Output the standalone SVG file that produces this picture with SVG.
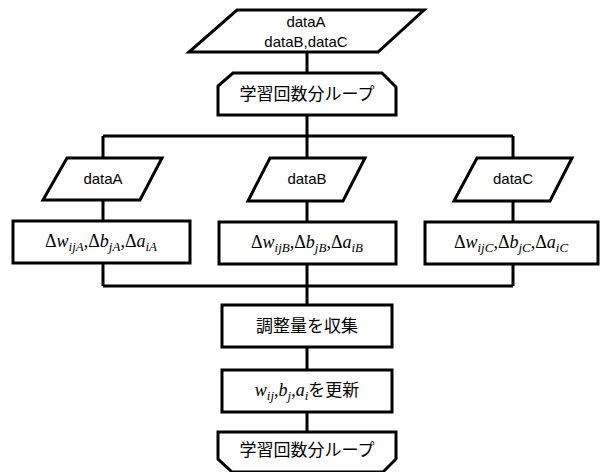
<svg xmlns="http://www.w3.org/2000/svg" width="602" height="472" viewBox="0 0 602 472">
<style>
.sh{fill:#fff;stroke:#000;stroke-width:3;stroke-linejoin:miter}
.cn{fill:none;stroke:#000;stroke-width:3}
.t{font-family:"Liberation Sans","Noto Sans CJK JP",sans-serif;font-size:15px;fill:#000;text-anchor:middle}
.j{font-family:"Noto Sans CJK JP",sans-serif;font-size:17px;fill:#000;text-anchor:middle}
.m{font-family:"Liberation Serif","Noto Sans CJK JP",serif;font-size:18px;fill:#000;text-anchor:middle}
.i{font-style:italic}
.s{font-style:italic;font-size:13px}
</style>
<rect width="602" height="472" fill="#fff"/>
<g id="connectors">
<path class="cn" d="M307 52V73M307 115V136M103 136H513M103 136V158M307 136V158M513 136V158M103 200V221M307 201V222M513 201V222M103 263V286M307 264V286M513 264V286M103 286H513M307 286V305M307 347V370M307 412V432"/>
</g>
<g id="input-all">
<polygon class="sh" points="237,10 424,10 378,52 189,52"/>
<text class="t" x="306" y="27">dataA</text>
<text class="t" x="306" y="47">dataB,dataC</text>
</g>
<g id="loop-start">
<polygon class="sh" points="233,73 382,73 396,87 396,115 218,115 218,86"/>
<text class="j" x="307" y="100">学習回数分ループ</text>
</g>
<g id="dataA">
<polygon class="sh" points="67,158 162,158 140,200 43,200"/>
<text class="t" x="103" y="184">dataA</text>
</g>
<g id="dataB">
<polygon class="sh" points="270,158 365,158 343,201 248,201"/>
<text class="t" x="307" y="184">dataB</text>
</g>
<g id="dataC">
<polygon class="sh" points="477,158 572,158 550,201 454,201"/>
<text class="t" x="513" y="184">dataC</text>
</g>
<g id="deltaA">
<rect class="sh" x="13" y="221" width="177" height="42"/>
<text class="m" x="101" y="247">Δ<tspan class="i">w</tspan><tspan class="s" dy="4">ijA</tspan><tspan dy="-4">,Δ</tspan><tspan class="i">b</tspan><tspan class="s" dy="4">jA</tspan><tspan dy="-4">,Δ</tspan><tspan class="i">a</tspan><tspan class="s" dy="4">iA</tspan></text>
</g>
<g id="deltaB">
<rect class="sh" x="219" y="222" width="177" height="42"/>
<text class="m" x="307" y="248">Δ<tspan class="i">w</tspan><tspan class="s" dy="4">ijB</tspan><tspan dy="-4">,Δ</tspan><tspan class="i">b</tspan><tspan class="s" dy="4">jB</tspan><tspan dy="-4">,Δ</tspan><tspan class="i">a</tspan><tspan class="s" dy="4">iB</tspan></text>
</g>
<g id="deltaC">
<rect class="sh" x="425" y="222" width="173" height="42"/>
<text class="m" x="511" y="248">Δ<tspan class="i">w</tspan><tspan class="s" dy="4">ijC</tspan><tspan dy="-4">,Δ</tspan><tspan class="i">b</tspan><tspan class="s" dy="4">jC</tspan><tspan dy="-4">,Δ</tspan><tspan class="i">a</tspan><tspan class="s" dy="4">iC</tspan></text>
</g>
<g id="collect">
<rect class="sh" x="222" y="305" width="170" height="42"/>
<text class="j" x="307" y="332">調整量を収集</text>
</g>
<g id="update">
<rect class="sh" x="222" y="370" width="170" height="42"/>
<text class="m" x="307" y="396"><tspan class="i">w</tspan><tspan class="s" dy="4">ij</tspan><tspan dy="-4">,</tspan><tspan class="i">b</tspan><tspan class="s" dy="4">j</tspan><tspan dy="-4">,</tspan><tspan class="i">a</tspan><tspan class="s" dy="4">i</tspan><tspan dy="-4" font-family="Noto Sans CJK JP, sans-serif" font-size="17">を更新</tspan></text>
</g>
<g id="loop-end">
<polygon class="sh" points="218,432 396,432 396,459 383,472 232,472 218,459"/>
<text class="j" x="307" y="456">学習回数分ループ</text>
</g>
</svg>
